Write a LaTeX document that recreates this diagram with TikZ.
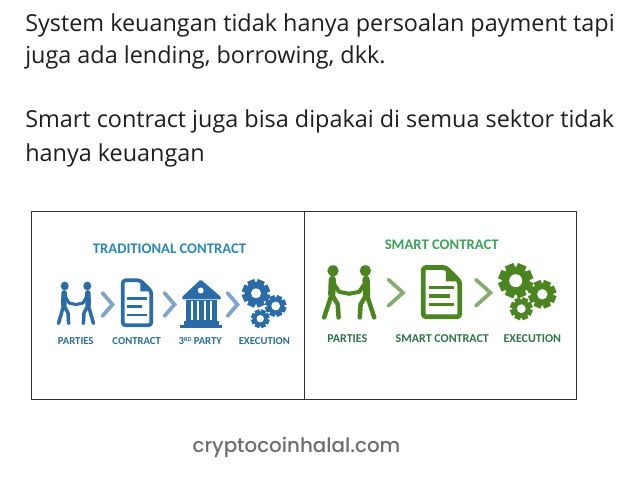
\documentclass[tikz,border=0pt]{standalone}
\usepackage{fontspec}
\setmainfont{Open Sans}
\newfontfamily\labfont[BoldFont={Carlito Bold}]{Carlito}
\newfontfamily\siteFont{Poppins Medium}
\definecolor{bdark}{HTML}{2A6CA8}
\definecolor{blight}{HTML}{7FA3C9}
\definecolor{btitle}{HTML}{2A86BA}
\definecolor{blabel}{HTML}{2B6D94}
\definecolor{gdark}{HTML}{4A851F}
\definecolor{glight}{HTML}{86AD70}
\definecolor{gtitle}{HTML}{3DA35A}
\definecolor{glabel}{HTML}{2F7348}
\definecolor{frameline}{HTML}{333333}
\definecolor{sitegray}{HTML}{6E6E6E}
\definecolor{bodytext}{HTML}{1E1E1E}
\tikzset{
  x=0.75pt,y=-0.75pt,
  bodyline/.style={anchor=base west,inner sep=0pt,text=bodytext,font=\fontsize{17.55pt}{20pt}\selectfont},
  labelb/.style={inner sep=0pt,text=blabel,font=\labfont\bfseries\fontsize{8pt}{9pt}\selectfont},
  labelg/.style={inner sep=0pt,text=glabel,font=\labfont\bfseries\fontsize{9pt}{10pt}\selectfont},
  titlefont/.style={inner sep=0pt,font=\labfont\bfseries\fontsize{11pt}{13pt}\selectfont},
  chev/.style={line width=2.8pt,line cap=round,line join=miter},
}
% cx, cy, outer radius, hole radius, colour
\newcommand{\gearicon}[5]{%
  \begin{scope}[shift={(#1,#2)}]
    \foreach \a in {0,45,...,315}{
      \draw[#5,line width=#3*0.40pt,line cap=butt] (0,0) -- (\a+22.5:#3);
    }
    \fill[#5] (0,0) circle (#3*0.8);
    \fill[white] (0,0) circle (#4);
  \end{scope}}
% cx, head y, xscale, yscale, colour, torso width factor
\newcommand{\partiesicon}[6]{%
  \begin{scope}[shift={(#1,#2)},xscale=#3,yscale=#4,line cap=round,line join=round,draw=#5]
    \fill[#5] (-11.3,0) circle[x radius=4,y radius=4.4];
    \fill[#5] (11.3,0) circle[x radius=4,y radius=4.4];
    \foreach \s in {-1,1}{
      \begin{scope}[xscale=\s]
        \draw[line width=4.2pt*#6] (-11.8,7) -- (-12.2,19);
        \draw[line width=2.6pt*#6] (-12.2,19) -- (-17.5,37.5) (-12.2,19) -- (-8,27) -- (-7.4,37.5);
        \draw[line width=2.3pt*#6] (-12.5,7.5) -- (-7,17) -- (0,18.5);
      \end{scope}
    }
  \end{scope}}
% x0,y0,x1,y1,fold,colour,line width pt
\newcommand{\docicon}[7]{%
  \draw[#6,line width=#7,rounded corners=2.2pt,line join=round]
    (#1,#2) -- ({#3-#5},#2) -- (#3,{#2+#5}) -- (#3,#4) -- (#1,#4) -- cycle;
  \fill[#6] ({#3-#5},#2) -- (#3,{#2+#5}) -- ({#3-#5},{#2+#5}) -- cycle;}
% x, ymid, half-height, tip offset, colour
\newcommand{\chevicon}[5]{%
  \draw[chev,#5] (#1,{#2-#3}) -- ({#1+#4},#2) -- (#1,{#2+#3});}
\begin{document}
\begin{tikzpicture}
\useasboundingbox (0,0) rectangle (635,491);
\fill[white] (0,0) rectangle (635,491);
% body text
\node[bodyline] (l1) at (25,32) {System keuangan tidak hanya persoalan payment tapi};
\node[bodyline] (l2) at (25,64) {juga ada lending, borrowing, dkk.};
\node[bodyline] (l3) at (25,128) {Smart contract juga bisa dipakai di semua sektor tidak};
\node[bodyline] (l4) at (25,162) {hanya keuangan};
% frames
\draw[frameline,line width=0.75pt] (31.5,211.5) rectangle (304.5,399.5);
\draw[frameline,line width=0.75pt] (304.5,211.5) rectangle (576.5,399.5);
% traditional
\node[titlefont,text=btitle] (t1) at (169.5,248.6) {TRADITIONAL CONTRACT};
\partiesicon{76}{286}{1}{1}{bdark}{1}
\chevicon{102.5}{304.5}{11.5}{10}{blight}
\docicon{122.7}{280.3}{151.3}{325.3}{11}{bdark}{2.8pt}
\draw[bdark,line width=2pt] (126.7,298.3) -- (146.7,298.3) (126.7,306.7) -- (141.7,306.7) (126.7,315) -- (146.7,315);
\chevicon{164.5}{304.5}{11.5}{10}{blight}
% bank
\fill[bdark,rounded corners=1pt] (200.7,279.5) -- (221,297) -- (221,299.5) -- (182,299.5) -- (182,297) -- cycle;
\fill[white] (200.7,290.5) circle (3);
\fill[bdark] (186,300) rectangle (217,321);
\foreach \xx in {191,197,203.5,210}{\fill[white] (\xx,301) rectangle ({\xx+2},320);}
\fill[bdark] (184,321) rectangle (219,325);
\fill[bdark] (180,325.5) rectangle (222,328);
\chevicon{227.5}{304.5}{11.5}{10}{blight}
\gearicon{256}{293.3}{14}{5}{bdark}
\gearicon{275.7}{306}{10.7}{4.4}{bdark}
\gearicon{260.3}{318.7}{9.3}{3.7}{bdark}
\node[labelb] (p1) at (75.7,341) {PARTIES};
\node[labelb] (c1) at (136.7,341) {CONTRACT};
\node[labelb] (r1) at (200.3,341) {3\raisebox{0.5ex}{\fontsize{4.6pt}{5pt}\selectfont RD} PARTY};
\node[labelb] (e1) at (264.3,341) {EXECUTION};
% smart
\node[titlefont,text=gtitle] (t2) at (441.7,244.5) {SMART CONTRACT};
\partiesicon{349.2}{270.7}{1.43}{1.245}{gdark}{1.3}
\chevicon{388.5}{292.7}{13}{14.5}{glight}
\docicon{423.2}{267.5}{459.8}{316.8}{14}{gdark}{3.6pt}
\draw[gdark,line width=2.5pt] (429,287.3) -- (454,287.3) (429,296) -- (449.7,296) (429,304.7) -- (454,304.7);
\chevicon{476}{292.7}{13}{14.5}{glight}
\gearicon{515.7}{280.7}{17.3}{6.5}{gdark}
\gearicon{542.3}{294.3}{14}{5.2}{gdark}
\gearicon{521.3}{308.7}{11.3}{4.4}{gdark}
\node[labelg] (p2) at (347.3,339) {PARTIES};
\node[labelg] (c2) at (442.3,339) {SMART CONTRACT};
\node[labelg] (e2) at (532.3,339) {EXECUTION};
% site
\node[inner sep=0pt,text=sitegray,font=\siteFont\fontsize{14.9pt}{18pt}\selectfont] (site) at (296.5,447) {cryptocoinhalal.com};
\end{tikzpicture}
\end{document}
